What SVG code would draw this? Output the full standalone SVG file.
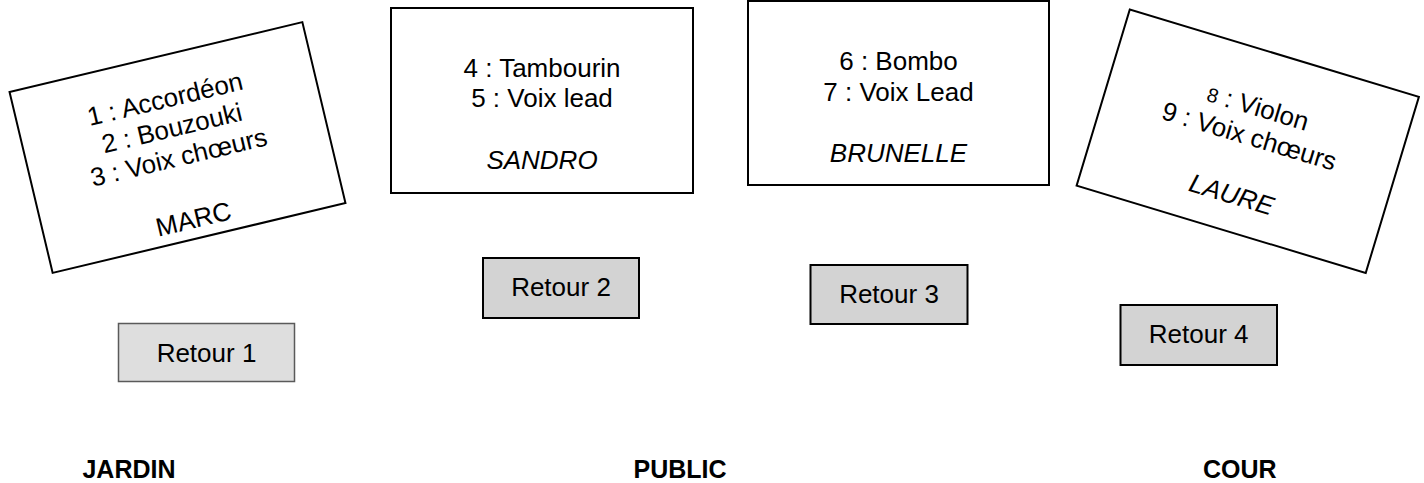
<svg xmlns="http://www.w3.org/2000/svg" width="1424" height="483" viewBox="0 0 1424 483">
<style>
  .stage { fill: #ffffff; stroke: #000000; stroke-width: 2; }
  .ret { fill: #d3d3d3; stroke: #000000; stroke-width: 2; }
  .ret1 { fill: #dedede; stroke: #5a5a5a; stroke-width: 1.5; }
  text { font-family: "Liberation Sans", Arial, sans-serif; font-size: 26px; fill: #000000; text-anchor: middle; }
  .it { font-style: italic; }
  .side { font-weight: bold; font-size: 25px; }
</style>
<rect width="1424" height="483" fill="#ffffff"/>
<g id="connectors"/>
<g id="marc" transform="translate(177.5,147.5) rotate(-13.4)">
  <rect class="stage" x="-150.5" y="-93" width="301" height="186"/>
  <text x="-1" y="-41.2">1 : Accordéon</text>
  <text x="-1" y="-11.3">2 : Bouzouki</text>
  <text x="-1" y="18.6">3 : Voix chœurs</text>
  <text x="-1" y="82.3">MARC</text>
</g>
<g id="sandro">
  <rect class="stage" x="391" y="8" width="302" height="185"/>
  <text x="542" y="76.5">4 : Tambourin</text>
  <text x="542" y="107">5 : Voix lead</text>
  <text class="it" x="542" y="168.5">SANDRO</text>
</g>
<g id="brunelle">
  <rect class="stage" x="748" y="1" width="301" height="184"/>
  <text x="898.5" y="70">6 : Bombo</text>
  <text x="898.5" y="100.5">7 : Voix Lead</text>
  <text class="it" x="898.5" y="161.5">BRUNELLE</text>
</g>
<g id="laure" transform="translate(1247.75,141.25) rotate(16.8)">
  <rect class="stage" x="-151" y="-92" width="302" height="184"/>
  <text x="0" y="-26.7"><tspan font-size="20">8</tspan> : Violon</text>
  <text x="0" y="3.6">9 : Voix chœurs</text>
  <text class="it" x="0" y="64.5">LAURE</text>
</g>
<g id="retour1">
  <rect class="ret1" x="118.5" y="323.5" width="176" height="58"/>
  <text x="206.5" y="361.7">Retour 1</text>
</g>
<g id="retour2">
  <rect class="ret" x="483" y="258" width="156" height="60"/>
  <text x="561" y="296">Retour 2</text>
</g>
<g id="retour3">
  <rect class="ret" x="810.5" y="265" width="157" height="59"/>
  <text x="889" y="303.3">Retour 3</text>
</g>
<g id="retour4">
  <rect class="ret" x="1120.5" y="305" width="156.5" height="60"/>
  <text x="1198.7" y="343.3">Retour 4</text>
</g>
<g id="jardin"><text class="side" x="129" y="478">JARDIN</text></g>
<g id="public"><text class="side" x="680" y="478">PUBLIC</text></g>
<g id="cour"><text class="side" x="1239.7" y="478">COUR</text></g>
</svg>
